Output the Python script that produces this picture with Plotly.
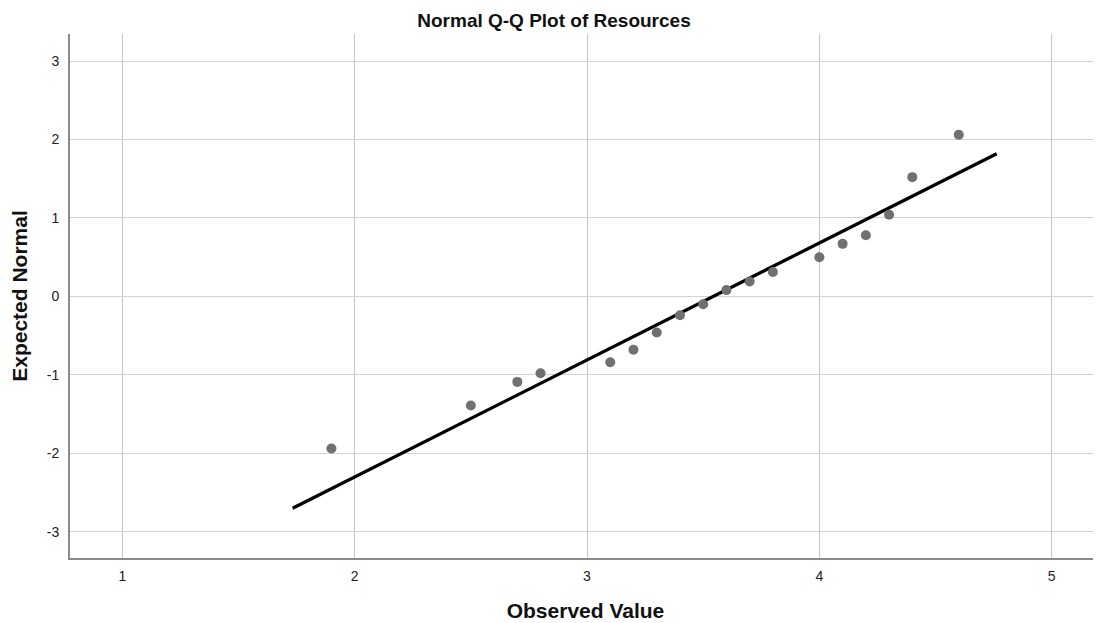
import plotly.graph_objects as go

observed = [1.9, 2.5, 2.7, 2.8, 3.1, 3.2, 3.3, 3.4, 3.5, 3.6, 3.7, 3.8, 4.0, 4.1, 4.2, 4.3, 4.4, 4.6]
expected = [-1.94, -1.39, -1.09, -0.98, -0.84, -0.68, -0.46, -0.24, -0.10, 0.08, 0.19, 0.31,
            0.50, 0.67, 0.78, 1.04, 1.52, 2.06]
line_x = [1.733, 4.763]
line_y = [-2.70, 1.819]
x_ticks = [1, 2, 3, 4, 5]
y_ticks = [-3, -2, -1, 0, 1, 2, 3]

FONT = "Liberation Sans, Arial, sans-serif"
# the page body has an 8px margin, so the figure is sized to fit the window
W, H = 1093, 615

fig = go.Figure()
fig.add_trace(go.Scatter(x=line_x, y=line_y, mode="lines",
                         line=dict(color="black", width=3.3), hoverinfo="skip"))
fig.add_trace(go.Scatter(x=observed, y=expected, mode="markers",
                         marker=dict(color="#707070", size=10)))

fig.update_layout(
    width=W, height=H,
    margin=dict(l=62, r=0, t=26, b=65),
    paper_bgcolor="white", plot_bgcolor="white",
    showlegend=False,
    font=dict(family=FONT, color="#222222"),
    title=dict(text="<b>Normal Q-Q Plot of Resources</b>", x=546 / W, xref="container",
               xanchor="center", y=1 - 12 / H, yref="container", yanchor="middle",
               font=dict(size=19, color="#111111", family=FONT)),
)
fig.update_xaxes(
    range=[0.775, 5.212], tickvals=x_ticks, ticktext=[str(v) for v in x_ticks],
    showgrid=True, gridcolor="#c4c4c4", gridwidth=1.3, zeroline=False,
    showline=True, linecolor="#8a8a8a", linewidth=2,
    ticks="outside", ticklen=4, tickcolor="rgba(0,0,0,0)",
    tickfont=dict(size=14, color="#222222"),
    title=dict(text="<b>Observed Value</b>", font=dict(size=21, color="#111111"), standoff=21),
)
fig.update_yaxes(
    range=[-3.335, 3.345], tickvals=y_ticks, ticktext=[str(v) for v in y_ticks],
    showgrid=True, gridcolor="#d2d2d2", gridwidth=1.3, zeroline=False,
    showline=True, linecolor="#8a8a8a", linewidth=2,
    ticks="outside", ticklen=6, tickcolor="rgba(0,0,0,0)",
    tickfont=dict(size=14, color="#222222"),
    title=dict(text="<b>Expected Normal</b>", font=dict(size=21, color="#111111"), standoff=15),
)

fig.write_html("out.html")
